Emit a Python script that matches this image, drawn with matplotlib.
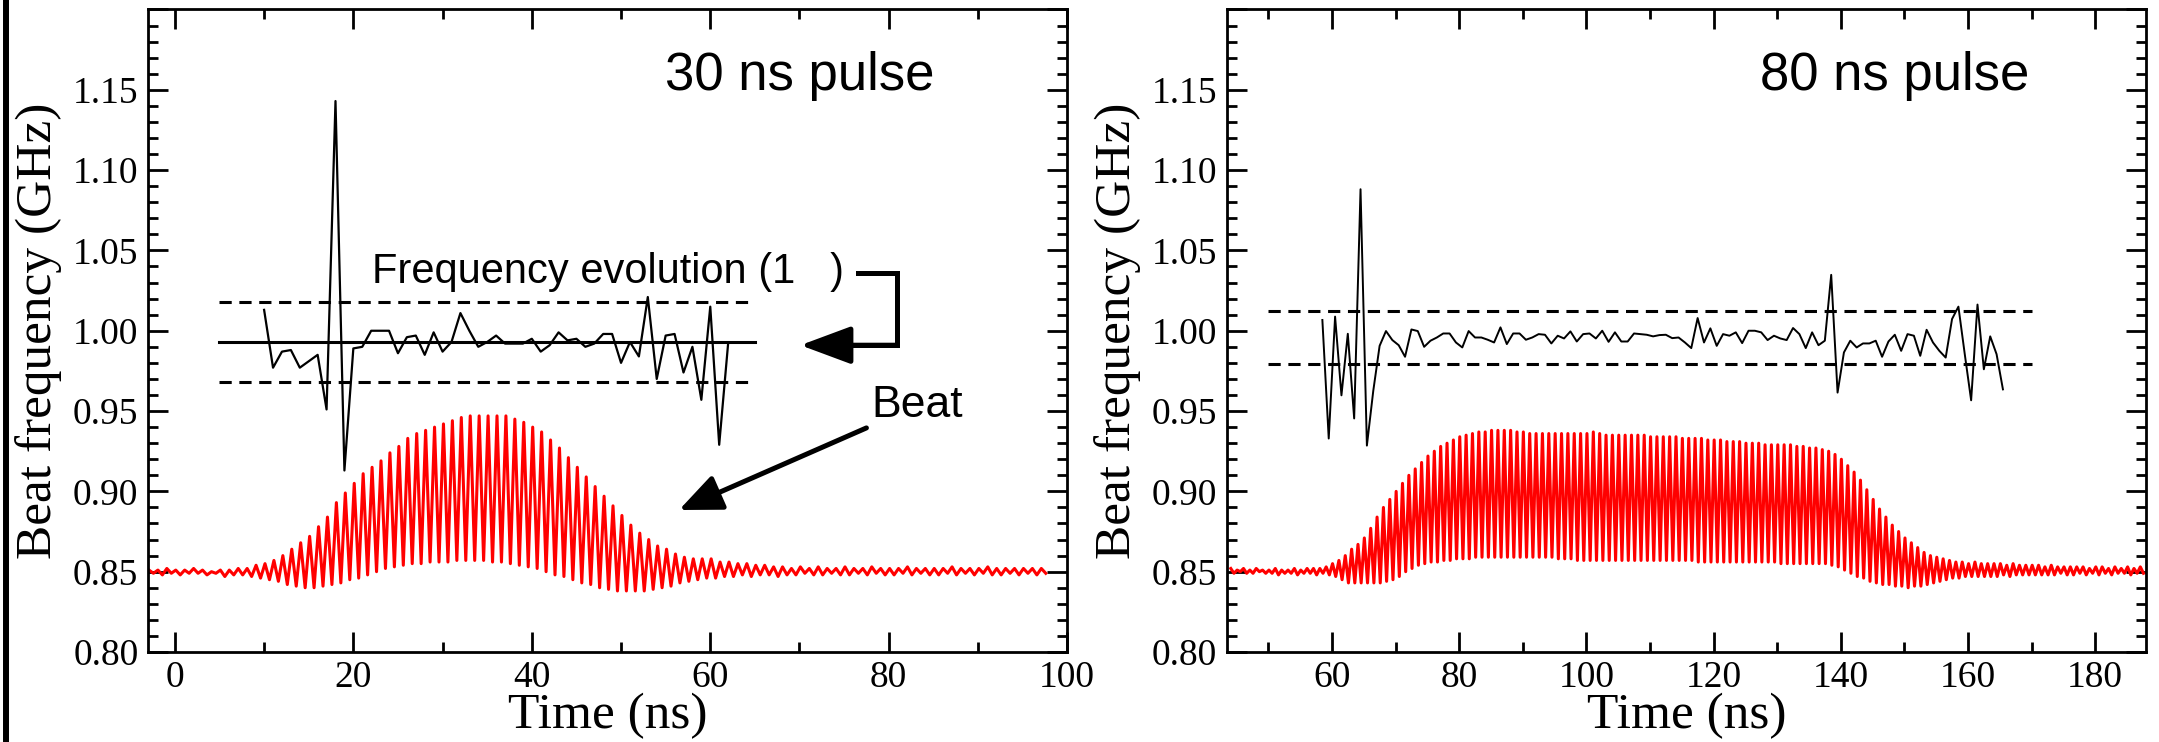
import numpy as np
import matplotlib
matplotlib.use("Agg")
import matplotlib.pyplot as plt
from matplotlib.lines import Line2D
from matplotlib.ticker import MultipleLocator, FuncFormatter

# ---------------- data ----------------
# 30 ns pulse: beat signal, one peak and one trough per ns (n = -3..97)
beat30_n = np.arange(-3, 98)
beat30_hi = [0.851, 0.851, 0.852, 0.851, 0.851, 0.852, 0.851, 0.850, 0.851, 0.851, 0.852, 0.852,
             0.854, 0.855, 0.857, 0.860, 0.864, 0.868, 0.872, 0.878, 0.884, 0.893, 0.899, 0.905,
             0.911, 0.915, 0.919, 0.924, 0.928, 0.933, 0.936, 0.938, 0.940, 0.942, 0.944, 0.946,
             0.947, 0.947, 0.947, 0.947, 0.947, 0.945, 0.943, 0.940, 0.937, 0.932, 0.927, 0.921,
             0.915, 0.909, 0.903, 0.897, 0.891, 0.885, 0.879, 0.874, 0.870, 0.866, 0.864, 0.861,
             0.859, 0.858, 0.858, 0.858, 0.856, 0.856, 0.855, 0.855, 0.854, 0.854,
             0.853, 0.853, 0.852, 0.853, 0.852, 0.853, 0.852, 0.852, 0.853, 0.852, 0.852, 0.853,
             0.852, 0.852, 0.852, 0.853, 0.852, 0.852, 0.852, 0.852, 0.853, 0.852, 0.852, 0.852,
             0.853, 0.852, 0.852, 0.852, 0.852, 0.852, 0.852]
beat30_lo = [0.849, 0.848, 0.849, 0.848, 0.849, 0.849, 0.848, 0.849, 0.847, 0.848, 0.848, 0.847,
             0.846, 0.845, 0.844, 0.842, 0.841, 0.840, 0.840, 0.841, 0.842, 0.843, 0.845, 0.846,
             0.848, 0.850, 0.852, 0.853, 0.854, 0.855, 0.855, 0.856, 0.856, 0.856, 0.857, 0.857,
             0.857, 0.857, 0.856, 0.856, 0.855, 0.854, 0.853, 0.852, 0.850, 0.848, 0.847, 0.845,
             0.843, 0.842, 0.840, 0.839, 0.838, 0.838, 0.838, 0.838, 0.839, 0.840, 0.841, 0.843,
             0.844, 0.845, 0.846, 0.846, 0.847, 0.847,
             0.848, 0.847, 0.848, 0.848, 0.847, 0.848, 0.848, 0.849, 0.848, 0.848, 0.849, 0.848,
             0.848, 0.849, 0.848, 0.849, 0.848, 0.848, 0.849, 0.848, 0.849, 0.848, 0.848, 0.849,
             0.848, 0.849, 0.848, 0.849, 0.848, 0.848, 0.849, 0.848, 0.849, 0.848, 0.849]

# 30 ns pulse: frequency evolution (1 point per ns, t = 10..62)
freq30_t = np.arange(10, 63)
freq30 = [1.013, 0.977, 0.987, 0.988, 0.977, 0.981, 0.985, 0.951, 1.143, 0.913,
          0.989, 0.990, 1.000, 1.000, 1.000, 0.986, 0.996, 0.997, 0.985, 0.999,
          0.987, 0.993, 1.011, 1.000, 0.990, 0.993, 0.997, 0.992, 0.992, 0.992,
          0.995, 0.987, 0.991, 0.999, 0.994, 0.995, 0.990, 0.992, 0.998, 0.998,
          0.980, 0.993, 0.984, 1.021, 0.970, 0.997, 0.998, 0.974, 0.990, 0.957,
          1.015, 0.929, 0.992]
freq30_mean = 0.993
freq30_band = [0.968, 1.018]
freq30_span = [5, 65]

# 80 ns pulse: beat signal (n = 44..187)
beat80_n = np.arange(44, 188)
beat80_hi = [0.852, 0.851, 0.852, 0.851, 0.852, 0.851, 0.851, 0.852, 0.851, 0.851, 0.852, 0.851,
             0.852, 0.852, 0.852,
             0.853, 0.855, 0.857, 0.860, 0.864, 0.867, 0.871, 0.877, 0.884, 0.890, 0.895, 0.900,
             0.905, 0.910, 0.914, 0.918, 0.922, 0.925, 0.928, 0.930, 0.932, 0.934, 0.935, 0.936,
             0.937, 0.937, 0.938, 0.938, 0.938, 0.938, 0.937, 0.937,
             0.936, 0.936, 0.936, 0.936, 0.936, 0.936, 0.936, 0.936, 0.936, 0.936, 0.937, 0.936,
             0.935, 0.935, 0.935, 0.935, 0.935, 0.935, 0.935, 0.934, 0.934, 0.934, 0.934, 0.934,
             0.933,
             0.933, 0.933, 0.933, 0.932, 0.932, 0.932, 0.931, 0.931, 0.931, 0.930, 0.930,
             0.930, 0.929, 0.929, 0.929, 0.929, 0.929, 0.928, 0.928, 0.927, 0.927,
             0.926, 0.925, 0.923, 0.920, 0.916, 0.912, 0.907, 0.901, 0.895, 0.889, 0.884, 0.879,
             0.875, 0.871, 0.868, 0.865, 0.862, 0.860, 0.859, 0.858, 0.857,
             0.856, 0.856, 0.855, 0.856, 0.855, 0.855, 0.855, 0.855, 0.854, 0.855, 0.854, 0.854,
             0.854, 0.854, 0.853, 0.854, 0.853, 0.853, 0.853, 0.853, 0.853, 0.852, 0.853, 0.853,
             0.852, 0.853, 0.852, 0.853, 0.852, 0.853]
beat80_lo = [0.849, 0.850, 0.849, 0.849, 0.850, 0.849, 0.849, 0.848, 0.849, 0.849, 0.848, 0.849,
             0.849, 0.848, 0.849,
             0.848, 0.847, 0.845, 0.843, 0.843, 0.843, 0.843, 0.843, 0.843, 0.844, 0.845, 0.847,
             0.850, 0.852, 0.854, 0.855, 0.856, 0.856, 0.857, 0.857, 0.858,
             0.858, 0.858, 0.859, 0.859, 0.859, 0.859, 0.859, 0.859, 0.859, 0.859, 0.859, 0.859,
             0.859, 0.859, 0.859, 0.858, 0.858,
             0.858, 0.857, 0.857, 0.857, 0.857, 0.857, 0.857, 0.857, 0.857, 0.857,
             0.857, 0.857, 0.857, 0.857, 0.857, 0.857, 0.857, 0.857, 0.857, 0.857,
             0.856, 0.856, 0.856, 0.856, 0.856, 0.856, 0.856, 0.856, 0.856, 0.856,
             0.856, 0.856, 0.856, 0.855, 0.855, 0.855, 0.855, 0.855, 0.855, 0.855,
             0.855, 0.854, 0.853, 0.851, 0.849, 0.847, 0.846, 0.844, 0.843, 0.842, 0.842, 0.841,
             0.841, 0.840, 0.841, 0.841, 0.842, 0.843, 0.844, 0.845, 0.846,
             0.846, 0.847, 0.847, 0.847, 0.847, 0.847, 0.847, 0.848, 0.847, 0.848, 0.848, 0.848,
             0.848, 0.848, 0.848, 0.848, 0.849, 0.848, 0.848, 0.849, 0.848, 0.849, 0.848, 0.849,
             0.848, 0.849, 0.849, 0.848, 0.849, 0.849]

# 80 ns pulse: frequency evolution (1 point per ns, t = 58.5..165.5)
freq80_t = np.arange(58.5, 166.0, 1.0)
freq80 = [1.0067, 0.9329, 1.0088, 0.9598, 0.9981, 0.9454, 1.0881, 0.9285, 0.9625, 0.9906,
          0.9998, 0.9942, 0.9910, 0.9838, 1.0008, 0.9998, 0.9900, 0.9938, 0.9958, 0.9983,
          0.9983, 0.9927, 0.9896, 0.9998, 0.9958, 0.9958, 0.9944, 0.9927, 1.0021, 0.9917,
          0.9983, 0.9983, 0.9944, 0.9958, 0.9979, 0.9975, 0.9921, 0.9969, 0.9952, 0.9996,
          0.9933, 0.9979, 0.9983, 0.9952, 1.0000, 0.9931, 0.9990, 0.9933, 0.9933, 0.9983,
          0.9979, 0.9975, 0.9965, 0.9973, 0.9975, 0.9954, 0.9958, 0.9927, 0.9892, 1.0079,
          0.9927, 1.0015, 0.9906, 0.9979, 0.9969, 0.9990, 0.9923, 1.0000, 1.0000, 0.9990,
          0.9942, 0.9969, 0.9952, 0.9942, 1.0017, 0.9979, 0.9892, 0.9990, 0.9910, 0.9938,
          1.0348, 0.9615, 0.9865, 0.9938, 0.9896, 0.9921, 0.9921, 0.9938, 0.9838, 0.9933,
          0.9975, 0.9875, 0.9979, 0.9969, 0.9844, 1.0006, 0.9927, 0.9875, 0.9833, 1.0073,
          1.0150, 0.9854, 0.9567, 1.0163, 0.9760, 0.9965, 0.9854, 0.9635]
freq80_band = [0.979, 1.0125]
freq80_span = [50, 170]

xlims = [(-3, 100), (43.5, 188)]
ylims = (0.80, 1.20)


def zigzag(n, hi, lo):
    # peak at n+0.1, trough at n+0.6
    t = np.column_stack([n + 0.1, n + 0.6]).ravel()
    v = np.column_stack([hi, lo]).ravel()
    return t, v


serif = "Liberation Serif"
sans = "Liberation Sans"
plt.rcParams["font.family"] = serif
plt.rcParams["xtick.labelsize"] = 27
plt.rcParams["ytick.labelsize"] = 27

fig = plt.figure(figsize=(21.59, 7.42), dpi=100)
ax1 = fig.add_axes([0.0686, 0.1213, 0.4257, 0.8659])
ax2 = fig.add_axes([0.5683, 0.1213, 0.4257, 0.8659])

# thick bar at the far left edge
fig.add_artist(Line2D([0.0028, 0.0028], [0, 1], transform=fig.transFigure, color="k", lw=4.3))

# top tick (1.20) carries no label
yfmt = FuncFormatter(lambda v, p: "" if v > 1.195 else "%.2f" % v)

for ax, xl in zip([ax1, ax2], xlims):
    ax.set_xlim(xl)
    ax.set_ylim(ylims)
    ax.xaxis.set_major_locator(MultipleLocator(20))
    ax.xaxis.set_minor_locator(MultipleLocator(10))
    ax.yaxis.set_major_locator(MultipleLocator(0.05))
    ax.yaxis.set_minor_locator(MultipleLocator(0.01))
    ax.yaxis.set_major_formatter(yfmt)
    ax.tick_params(which="both", direction="in", top=True, right=True, width=2)
    ax.tick_params(which="major", length=14.5)
    ax.tick_params(which="minor", length=7)
    ax.tick_params(axis="y", which="major", pad=7)
    ax.tick_params(axis="x", which="major", pad=6)
    for sp in ax.spines.values():
        sp.set_linewidth(2)
    ax.set_ylabel("Beat frequency (GHz)", fontsize=37)
    ax.yaxis.set_label_coords(-0.0936, 0.5)
    ax.set_xlabel("Time (ns)", fontsize=37)
    ax.xaxis.label.set_va("baseline")
    ax.xaxis.set_label_coords(0.5, -0.118)

# ---------------- 30 ns pulse ----------------
t, v = zigzag(beat30_n, beat30_hi, beat30_lo)
ax1.plot(t, v, color="red", lw=2.2)
ax1.plot(freq30_t, freq30, color="k", lw=1.6)
ax1.plot(freq30_span, [freq30_mean] * 2, color="k", lw=2.2)
for b in freq30_band:
    ax1.plot(freq30_span, [b, b], color="k", lw=2.2, dashes=(4, 2.5))

ax1.text(54.9, 1.15, "30 ns pulse", family=sans, fontsize=38, va="baseline", ha="left")
ax1.text(22.1, 1.0298, "Frequency evolution (1   )", family=sans, fontsize=30,
         va="baseline", ha="left")
ax1.text(78.1, 0.9463, "Beat", family=sans, fontsize=32, va="baseline", ha="left")

# bracket arrow from the label to the mean line
ax1.plot([76.6, 80.9, 80.9, 75.0], [1.036, 1.036, 0.991, 0.991], color="k", lw=3.6,
         solid_joinstyle="miter")
ax1.annotate("", xy=(70.1, 0.991), xytext=(80.9, 0.991),
             arrowprops=dict(arrowstyle="-|>,head_length=0.78,head_width=0.29",
                             mutation_scale=40, lw=3.6, color="k",
                             shrinkA=0, shrinkB=0))
# arrow to the beat
ax1.annotate("", xy=(56.5, 0.8884), xytext=(77.5, 0.9395),
             arrowprops=dict(arrowstyle="-|>,head_length=0.65,head_width=0.28",
                             mutation_scale=40, lw=3.6, color="k",
                             shrinkA=0, shrinkB=0))

# ---------------- 80 ns pulse ----------------
t, v = zigzag(beat80_n, beat80_hi, beat80_lo)
ax2.plot(t, v, color="red", lw=2.2)
ax2.plot(freq80_t, freq80, color="k", lw=1.4)
for b in freq80_band:
    ax2.plot(freq80_span, [b, b], color="k", lw=2.2, dashes=(4, 2.5))
ax2.text(127.3, 1.15, "80 ns pulse", family=sans, fontsize=38, va="baseline", ha="left")

fig.savefig("out.png", dpi=100)
